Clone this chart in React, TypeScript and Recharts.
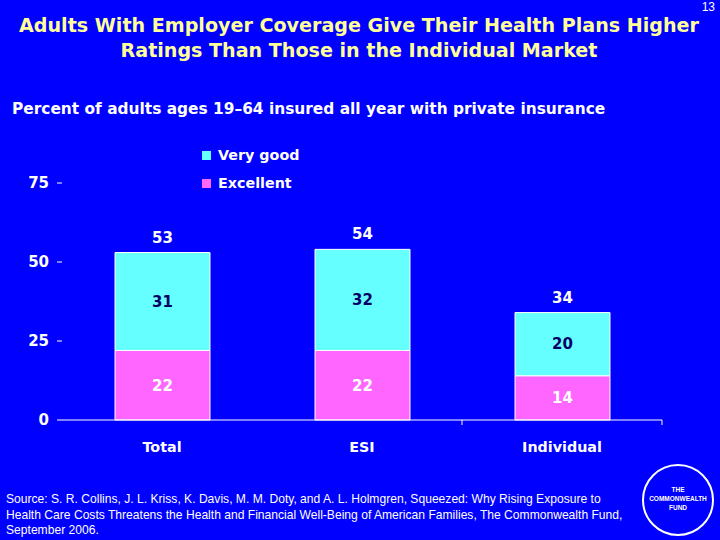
import React from 'react';
import { BarChart, Bar, XAxis, YAxis, Legend, LabelList } from 'recharts';

const categories = ['Total', 'ESI', 'Individual'];
const excellent = [22, 22, 14];
const veryGood = [31, 32, 20];
const totals = [53, 54, 34];
const yTicks = [0, 25, 50, 75];

const data = categories.map((name, i) => ({
  name,
  excellent: excellent[i],
  veryGood: veryGood[i],
  total: totals[i],
}));

const BG = '#0000FF';
const CYAN = '#66FFFF';
const PINK = '#FF66FF';
const FONT = '"Liberation Sans", Arial, sans-serif';
const BOLD = '"DejaVu Sans", Verdana, sans-serif';
const TICK_MARGIN = 12;

const CategoryTick = (props: any) => {
  const { x, y, payload, index, width, visibleTicksCount } = props;
  const half = payload && payload.offset ? payload.offset : width / visibleTicksCount / 2;
  const axisY = y - TICK_MARGIN;
  return (
    <g>
      {index > 0 && (
        <line x1={x + half} x2={x + half} y1={axisY} y2={axisY + 5} stroke="#fff" strokeWidth={1} />
      )}
      <text x={x} y={y + 20} textAnchor="middle" fill="#fff" fontSize={14.3} fontWeight="bold" fontFamily={BOLD}>
        {payload.value}
      </text>
    </g>
  );
};

const LegendBox = (props: any) => {
  const items = [...(props.payload || [])].reverse();
  return (
    <div style={{ fontFamily: BOLD, fontWeight: 'bold', fontSize: 14.3, color: '#fff' }}>
      {items.map((item: any) => (
        <div key={item.value} style={{ display: 'flex', alignItems: 'center', height: 28 }}>
          <span style={{ display: 'inline-block', width: 9, height: 9, background: item.color, marginRight: 7 }} />
          {item.value}
        </div>
      ))}
    </div>
  );
};

const App: React.FC = () => {
  return (
    <div style={{ position: 'absolute', left: 0, top: 0, width: 720, height: 540, background: BG, overflow: 'hidden', fontFamily: FONT }}>
      <div style={{ position: 'absolute', right: 5, top: 0, color: '#fff', fontSize: 12, lineHeight: '14px' }}>13</div>
      <div style={{ position: 'absolute', left: 0, width: 718, top: 13, textAlign: 'center', color: '#FFFF99', fontWeight: 'bold', fontFamily: BOLD, fontSize: 19.1, lineHeight: '25px', whiteSpace: 'nowrap' }}>
        Adults With Employer Coverage Give Their Health Plans Higher
        <br />
        Ratings Than Those in the Individual Market
      </div>
      <div style={{ position: 'absolute', left: 12, top: 100, color: '#fff', fontWeight: 'bold', fontFamily: BOLD, fontSize: 15.4, whiteSpace: 'nowrap' }}>
        Percent of adults ages 19–64 insured all year with private insurance
      </div>

      <div style={{ position: 'absolute', left: 0, top: 0 }}>
        <BarChart width={720} height={540} data={data} margin={{ top: 183, right: 58, bottom: 80, left: 0 }}>
          <YAxis
            type="number"
            domain={[0, 75]}
            ticks={yTicks}
            width={62}
            axisLine={false}
            tickLine={{ stroke: '#fff' }}
            tickSize={5}
            tickMargin={8}
            tick={{ fill: '#fff', fontSize: 15, fontWeight: 'bold', fontFamily: BOLD }}
          />
          <XAxis
            dataKey="name"
            height={40}
            axisLine={{ stroke: '#fff', strokeWidth: 1 }}
            tickLine={false}
            tickSize={0}
            tickMargin={TICK_MARGIN}
            tick={<CategoryTick />}
            interval={0}
          />
          <Legend
            layout="vertical"
            align="center"
            verticalAlign="middle"
            content={<LegendBox />}
            wrapperStyle={{ position: 'absolute', left: 202, top: 141, width: 'auto' }}
          />
          <Bar dataKey="excellent" name="Excellent" stackId="a" fill={PINK} stroke="#fff" strokeWidth={1} barSize={95} isAnimationActive={false}>
            <LabelList dataKey="excellent" position="center" fill="#fff" fontSize={15} fontWeight="bold" fontFamily={BOLD} />
          </Bar>
          <Bar dataKey="veryGood" name="Very good" stackId="a" fill={CYAN} stroke="#fff" strokeWidth={1} barSize={95} isAnimationActive={false}>
            <LabelList dataKey="veryGood" position="center" fill="#000066" fontSize={15} fontWeight="bold" fontFamily={BOLD} />
            <LabelList dataKey="total" position="top" offset={10} fill="#fff" fontSize={15} fontWeight="bold" fontFamily={BOLD} />
          </Bar>
        </BarChart>
      </div>

      <div style={{ position: 'absolute', left: 6, top: 492, color: '#fff', fontSize: 12.1, lineHeight: '15.5px', whiteSpace: 'nowrap' }}>
        Source: S. R. Collins, J. L. Kriss, K. Davis, M. M. Doty, and A. L. Holmgren, Squeezed: Why Rising Exposure to
        <br />
        Health Care Costs Threatens the Health and Financial Well-Being of American Families, The Commonwealth Fund,
        <br />
        September 2006.
      </div>
      <svg style={{ position: 'absolute', left: 640, top: 462 }} width={78} height={78}>
        <circle cx={38} cy={38} r={35} fill="none" stroke="#fff" strokeWidth={2} />
        <text x={38} y={30} textAnchor="middle" fill="#fff" fontSize={6.5} fontWeight="bold" fontFamily={FONT}>THE</text>
        <text x={38} y={39} textAnchor="middle" fill="#fff" fontSize={6.5} fontWeight="bold" fontFamily={FONT}>COMMONWEALTH</text>
        <text x={38} y={48} textAnchor="middle" fill="#fff" fontSize={6.5} fontWeight="bold" fontFamily={FONT}>FUND</text>
      </svg>
    </div>
  );
};

export default App;
